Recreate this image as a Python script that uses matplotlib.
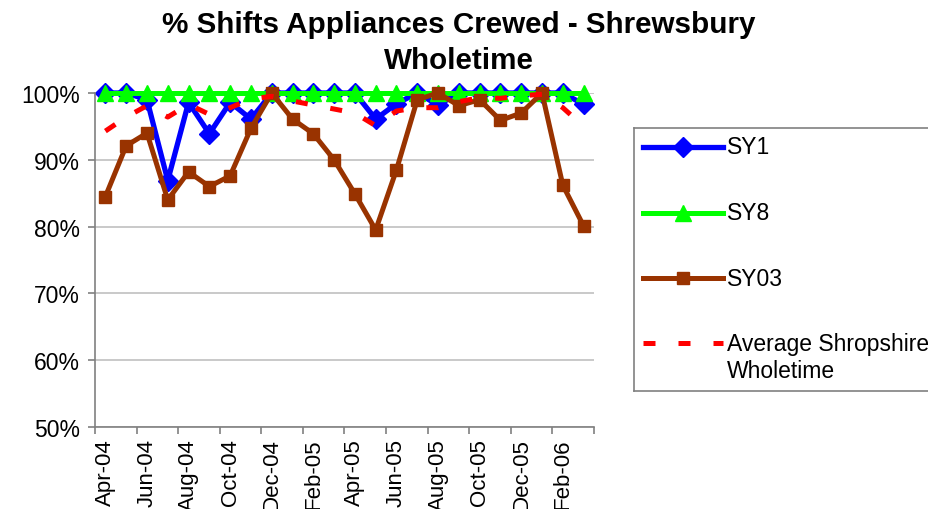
import matplotlib
matplotlib.use("Agg")
import matplotlib.pyplot as plt
from matplotlib.lines import Line2D
from matplotlib.ticker import FixedLocator, FuncFormatter

plt.rcParams['font.family'] = ['Liberation Sans', 'DejaVu Sans']

# Monthly categories, Apr-04 .. Mar-06
months = ['Apr-04', 'May-04', 'Jun-04', 'Jul-04', 'Aug-04', 'Sep-04',
          'Oct-04', 'Nov-04', 'Dec-04', 'Jan-05', 'Feb-05', 'Mar-05',
          'Apr-05', 'May-05', 'Jun-05', 'Jul-05', 'Aug-05', 'Sep-05',
          'Oct-05', 'Nov-05', 'Dec-05', 'Jan-06', 'Feb-06', 'Mar-06']

# % of shifts crewed per appliance
sy1 = [100, 100, 99.0, 86.9, 98.6, 93.9, 98.6, 96.1, 100, 100, 100, 100,
       100, 96.1, 98.4, 100, 98.2, 100, 100, 100, 100, 100, 100, 98.3]
sy8 = [100, 100, 100, 100, 100, 100, 100, 100, 100, 100, 100, 100,
       100, 100, 100, 100, 100, 100, 100, 100, 100, 100, 100, 100]
sy03 = [84.5, 92.1, 94.0, 84.0, 88.2, 86.0, 87.6, 94.7, 100, 96.1, 93.9, 90.0,
        84.9, 79.5, 88.5, 99.0, 100, 98.1, 99.0, 95.9, 97.0, 100, 86.2, 80.1]
avg_shropshire = [94.3, 96.4, 98.1, 96.4, 98.3, 96.8, 97.8, 99.1, 99.5, 98.8,
                  98.2, 97.6, 97.0, 95.1, 97.3, 97.8, 97.8, 98.7, 99.3, 99.2,
                  99.6, 99.8, 97.8, 95.0]

series = [
    ('SY1', sy1, dict(color='#0000FF', lw=3.8, marker='D', ms=10,
                      mec='#0000FF', mfc='#0000FF')),
    ('SY8', sy8, dict(color='#00FF00', lw=3.6, marker='^', ms=12,
                      mec='#00FF00', mfc='#00FF00')),
    ('SY03', sy03, dict(color='#993300', lw=3.6, marker='s', ms=8.5,
                        mec='#993300', mfc='#993300')),
    ('Average Shropshire\nWholetime', avg_shropshire,
     dict(color='#FF0000', lw=3.6, ls=(0, (2.4, 4.6)),
          dash_capstyle='butt')),
]

W, H = 929, 510
fig = plt.figure(figsize=(W / 100, H / 100), dpi=100)
fig.patch.set_facecolor('white')

ax = fig.add_axes([95 / W, 1 - 428 / H, 499 / W, (428 - 94) / H])
x = list(range(len(months)))
for label, vals, style in series:
    ax.plot(x, vals, clip_on=False, **style)

ax.set_xlim(-0.5, len(months) - 0.5)
ax.set_ylim(50, 100)

grey = '#808080'
for side in ('top', 'right'):
    ax.spines[side].set_visible(False)
for side in ('left', 'bottom'):
    ax.spines[side].set_color(grey)
    ax.spines[side].set_linewidth(1.2)

ax.set_yticks([50, 60, 70, 80, 90, 100])
ax.yaxis.set_major_formatter(FuncFormatter(lambda v, p: f'{v:.0f}%'))
ax.grid(axis='y', color='#c0c0c0', lw=1.2, zorder=0)
ax.set_axisbelow(True)

# boundary ticks between every second category, labels on the category
ax.xaxis.set_major_locator(FixedLocator([i - 0.5 for i in range(0, 25, 2)]))
ax.xaxis.set_major_formatter(FuncFormatter(lambda v, p: ''))
ax.xaxis.set_minor_locator(FixedLocator(x[::2]))
ax.set_xticklabels(months[::2], minor=True, rotation=90, va='top', ha='center')
ax.tick_params(axis='x', which='minor', length=0, pad=8, labelsize=16)
ax.tick_params(axis='x', which='major', length=5, color=grey, width=1.2)
ax.tick_params(axis='y', length=5, color=grey, width=1.2, pad=6,
               labelsize=16.5)

fig.text(459 / W, 1 - 11 / H, '% Shifts Appliances Crewed - Shrewsbury\nWholetime',
         ha='center', va='top', fontsize=21.3, fontweight='bold',
         multialignment='center', linespacing=1.38)

# legend panel
lx0, ly0, ly1 = 634, 129, 392
lax = fig.add_axes([lx0 / W, 1 - ly1 / H, (W + 10 - lx0) / W, (ly1 - ly0) / H])
lax.set_xlim(0, W + 10 - lx0)
lax.set_ylim(ly1 - ly0, 0)
lax.set_xticks([])
lax.set_yticks([])
for s in lax.spines.values():
    s.set_color(grey)
    s.set_linewidth(1.2)
rows = [148, 214, 279, 344]
for (label, vals, style), ry in zip(series, rows):
    y = ry - ly0
    lax.add_line(Line2D([9, 49, 89], [y, y, y], markevery=[1], **style))
    first, *rest = label.split('\n')
    lax.text(93, y, first, va='center', ha='left', fontsize=16.5)
    for k, extra in enumerate(rest, 1):
        lax.text(93, y + 28 * k, extra, va='center', ha='left', fontsize=16.5)

fig.savefig('out.png', dpi=100, facecolor='white')
